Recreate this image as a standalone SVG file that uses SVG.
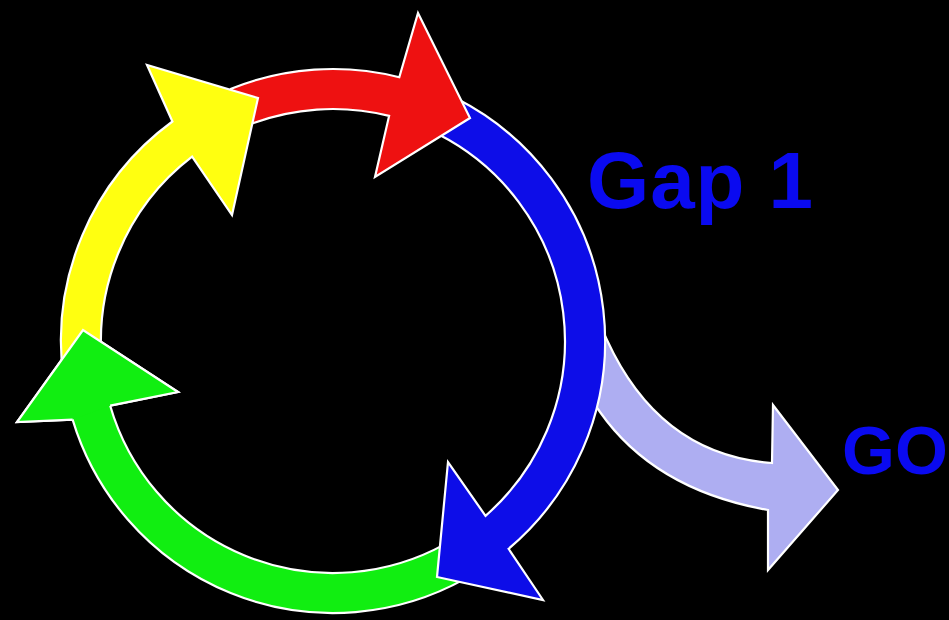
<svg xmlns="http://www.w3.org/2000/svg" width="949" height="620" viewBox="0 0 949 620">
  <style>
    .arrow { stroke: #ffffff; stroke-width: 2.2; stroke-linejoin: miter; stroke-miterlimit: 10; }
    .nostroke { stroke: none; }
    .outline { fill: none; stroke: #ffffff; stroke-width: 2.2; stroke-linejoin: miter; stroke-miterlimit: 10; }
    .yellow { fill: #ffff10; }
    .red { fill: #ee1111; }
    .blue { fill: #0d0de8; }
    .green { fill: #11ee11; }
    .lavender { fill: #aeaef2; }
    .label { font-family: "Liberation Sans", Arial, sans-serif; font-weight: bold; fill: #0a0af0; }
  </style>
  <rect x="0" y="0" width="949" height="620" fill="#000000"/>

  <g id="connectors">
    <g id="arrow-g0">
      <path class="arrow lavender" d="M 597.8 320 L 607 340 Q 660 455 772 463 L 773 405 L 838 490 L 768 570 L 768 510 Q 655 490 600 412 L 591.4 399.7 Z"/>
    </g>
    <g id="arrow-green">
      <path class="arrow green" d="M 464.9 578.9 A 272 272 0 0 1 72.6 419.6 L 17 422 L 83 330 L 178 392 L 110.2 405.7 A 232 232 0 0 0 445.5 543.9 Z"/>
    </g>
    <g id="arrow-blue">
      <path class="arrow blue" d="M 456.5 98.6 A 272 272 0 0 1 508.6 548.8 L 543 600 L 437 577 L 448 462 L 485.5 515.8 A 232 232 0 0 0 438.3 134.3 Z"/>
    </g>
    <g id="arrow-red">
      <path class="arrow red" d="M 231.1 88.8 A 272 272 0 0 1 399.3 77.2 L 418 13 L 470 118 L 375 177 L 389.1 115.9 A 232 232 0 0 0 246.1 125.9 Z"/>
    </g>
    <g id="arrow-yellow">
      <path class="arrow yellow" d="M 63.6 378.9 A 272 272 0 0 1 172.4 121.5 L 147 65 L 258 98 L 232 215 L 192.1 156.7 A 232 232 0 0 0 103.2 373.3 Z"/>
    </g>
    <g id="arrow-green-head">
      <path class="green nostroke" d="M 72.6 419.6 L 17 422 L 83 330 L 178 392 L 110.2 405.7 Z"/>
      <path class="outline" d="M 72.6 419.6 L 17 422 L 83 330 L 178 392 L 110.2 405.7"/>
    </g>
  </g>

  <g id="label-gap1">
    <text class="label" x="587" y="208" font-size="80" textLength="226" lengthAdjust="spacing">Gap 1</text>
  </g>
  <g id="label-go">
    <text class="label" x="842" y="474" font-size="68">GO</text>
  </g>
</svg>
